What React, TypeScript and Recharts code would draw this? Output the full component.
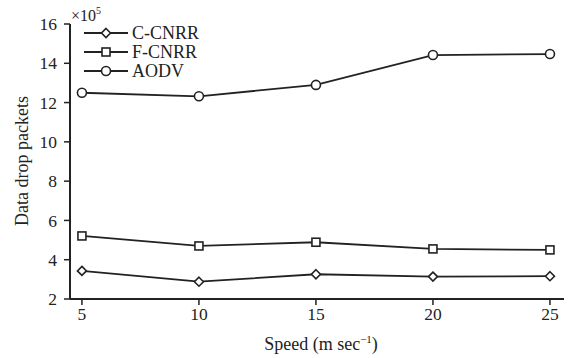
import React from "react";
import { LineChart, Line, XAxis, YAxis, Legend } from "recharts";

const speeds = [5, 10, 15, 20, 25];
const cCnrr = [3.43, 2.88, 3.26, 3.14, 3.16];
const fCnrr = [5.21, 4.7, 4.89, 4.55, 4.5];
const aodv = [12.5, 12.32, 12.9, 14.42, 14.47];
const yTicks = [2, 4, 6, 8, 10, 12, 14, 16];

const data = speeds.map((s, i) => ({
  speed: s,
  c: cCnrr[i],
  f: fCnrr[i],
  a: aodv[i],
}));

const FONT = "'Liberation Serif', 'Times New Roman', serif";
const INK = "#222";

function diamond(cx: number, cy: number, key?: any) {
  const r = 4.5;
  return (
    <path
      key={key}
      d={`M${cx} ${cy - r}L${cx + r} ${cy}L${cx} ${cy + r}L${cx - r} ${cy}Z`}
      fill="#fff"
      stroke={INK}
      strokeWidth={1.6}
    />
  );
}
function square(cx: number, cy: number, key?: any) {
  return (
    <rect key={key} x={cx - 4} y={cy - 4} width={8} height={8} fill="#fff" stroke={INK} strokeWidth={1.6} />
  );
}
function circle(cx: number, cy: number, key?: any) {
  return <circle key={key} cx={cx} cy={cy} r={4.5} fill="#fff" stroke={INK} strokeWidth={1.6} />;
}

const series = [
  { key: "c", name: "C-CNRR", marker: diamond },
  { key: "f", name: "F-CNRR", marker: square },
  { key: "a", name: "AODV", marker: circle },
];

// legend drawn in page coordinates
const LegendBox = () => (
  <svg width={220} height={90} style={{ display: "block" }}>
    {series.map((s, i) => {
      const y = 33 + i * 19;
      return (
        <g key={s.key}>
          <line x1={84} x2={128} y1={y} y2={y} stroke={INK} strokeWidth={1.8} />
          {s.marker(106, y)}
          <text x={132} y={y + 6} fontSize={18} fontFamily={FONT} fill={INK}>
            {s.name}
          </text>
        </g>
      );
    })}
  </svg>
);

const YTitle = () => (
  <g fontFamily={FONT} fill={INK}>
    <text transform="translate(28,161) rotate(-90)" textAnchor="middle" fontSize={18}>
      Data drop packets
    </text>
    <text x={71} y={21} fontSize={16}>
      ×10
      <tspan dy={-7} fontSize={10}>
        5
      </tspan>
    </text>
  </g>
);

const XTitle = () => (
  <text x={321} y={350} textAnchor="middle" fontSize={18} fontFamily={FONT} fill={INK}>
    Speed (m sec
    <tspan dy={-7} fontSize={11}>
      −1
    </tspan>
    <tspan dy={7}>)</tspan>
  </text>
);

export default function App() {
  return (
    <div style={{ position: "absolute", left: 0, top: 0, width: 568, height: 358, background: "#fff" }}>
      <LineChart width={568} height={358} data={data} margin={{ top: 24, right: 4, left: 10, bottom: 29 }}>
        <XAxis
          dataKey="speed"
          type="number"
          domain={[4.49, 25.6]}
          ticks={speeds}
          allowDataOverflow
          height={30}
          axisLine={{ stroke: INK, strokeWidth: 2 }}
          tickLine={{ stroke: INK, strokeWidth: 1.5 }}
          tickSize={6}
          tickMargin={3}
          tick={{ fill: INK, fontSize: 17.5, fontFamily: FONT }}
          label={{ content: () => <XTitle /> }}
        />
        <YAxis
          type="number"
          domain={[2, 16]}
          ticks={yTicks}
          width={60}
          axisLine={{ stroke: INK, strokeWidth: 2 }}
          tickLine={{ stroke: INK, strokeWidth: 1.5 }}
          tickSize={6}
          tickMargin={7}
          tick={{ fill: INK, fontSize: 17.5, fontFamily: FONT }}
          label={{ content: () => <YTitle /> }}
        />
        <Legend
          layout="vertical"
          align="center"
          verticalAlign="middle"
          content={() => <LegendBox />}
          wrapperStyle={{ left: 0, top: 0, width: 220, height: 90 }}
        />
        {series.map((s) => (
          <Line
            key={s.key}
            dataKey={s.key}
            name={s.name}
            type="linear"
            stroke={INK}
            strokeWidth={1.8}
            isAnimationActive={false}
            dot={(p: any) => s.marker(p.cx, p.cy, `${s.key}-${p.index}`)}
            activeDot={false}
          />
        ))}
      </LineChart>
    </div>
  );
}
